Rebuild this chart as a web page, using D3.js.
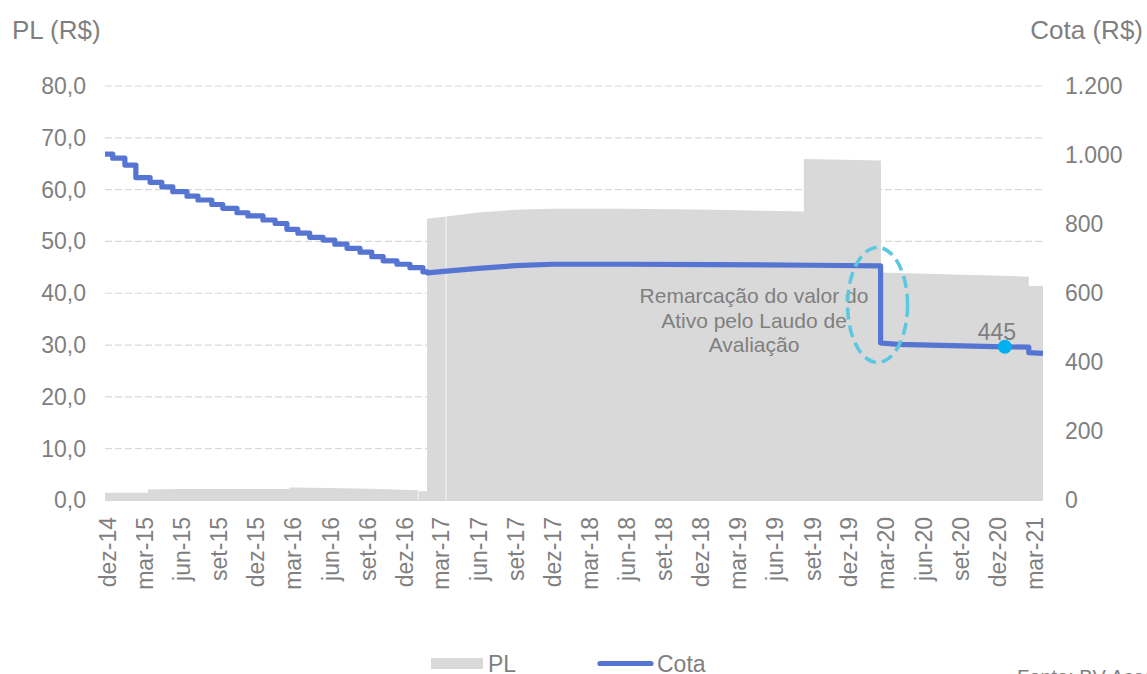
<!DOCTYPE html>
<html>
<head>
<meta charset="utf-8">
<script src="https://cdn.jsdelivr.net/npm/d3@7"></script>
<style>
  html, body { margin: 0; padding: 0; background: #fff; overflow: hidden; }
  svg { display: block; font-family: "Liberation Sans", Arial, sans-serif; }
  text { fill: #7f7f7f; }
</style>
</head>
<body>
<svg id="chart" width="1147" height="674"></svg>
<script>
// ---------- DATA ----------
const xTickLabels = ["dez-14","mar-15","jun-15","set-15","dez-15","mar-16","jun-16","set-16","dez-16",
  "mar-17","jun-17","set-17","dez-17","mar-18","jun-18","set-18","dez-18","mar-19","jun-19","set-19",
  "dez-19","mar-20","jun-20","set-20","dez-20","mar-21"];
const firstTickDate = "2014-12-01";
const leftTicks = [0,10,20,30,40,50,60,70,80];
const rightTicks = [0,200,400,600,800,1000,1200];

// PL (R$ milhões) - area, left axis
const plDates  = ["2014-11-25","2015-03-11","2015-03-11","2015-06-01","2016-02-20","2016-02-24","2016-06-01","2016-10-01",
  "2017-01-04","2017-01-04","2017-01-26","2017-01-26","2017-03-14","2017-06-01","2017-09-01","2017-12-01",
  "2018-06-01","2019-01-01","2019-08-12","2019-08-12","2020-02-18","2020-02-18","2021-02-16","2021-02-16","2021-03-23"];
const plValues = [1.5,1.5,2.1,2.2,2.2,2.5,2.4,2.2,
  2.0,1.8,1.8,54.4,54.8,55.6,56.1,56.3,
  56.3,56.1,55.8,65.9,65.6,44.0,43.2,41.4,41.4];
const plGapDates = ["2017-01-04","2017-03-14"];

// Cota (R$) - monthly stepped part, right axis
const cotaStepDates = ["2014-11-25","2014-12-14","2015-01-13","2015-02-09","2015-03-16","2015-04-14","2015-05-11",
  "2015-06-15","2015-07-12","2015-08-15","2015-09-11","2015-10-16","2015-11-12","2015-12-19","2016-01-18",
  "2016-02-16","2016-03-14","2016-04-12","2016-05-15","2016-06-13","2016-07-13","2016-08-14","2016-09-12",
  "2016-10-10","2016-11-13","2016-12-15","2017-01-16"];
const cotaStepValues = [1003,991,971,935,921,908,894,
  881,870,857,846,833,824,812,802,
  785,774,762,754,742,730,719,706,
  694,684,674,662];
// Cota - continuous part
const cotaDates  = ["2017-01-27","2017-03-15","2017-06-01","2017-09-01","2017-12-01","2018-06-01","2019-01-01",
  "2019-09-01","2020-02-17","2020-02-17","2020-04-01","2020-12-19","2021-02-16","2021-02-16","2021-03-23"];
const cotaValues = [659,664,672,680,684,684,683,
  681,679,456,452,445,444,428,426];

const markerDate = "2020-12-19";
const markerValue = 445;
const markerLabel = "445";

const annotationLines = ["Remarcação do valor do", "Ativo pelo Laudo de", "Avaliação"];
const annotationDate = "2020-02-17";
const annotationRange = [456, 679];

// ---------- CHART ----------
const parse = d3.timeParse("%Y-%m-%d");
const svg = d3.select("#chart");

const x = d3.scaleTime()
  .domain([parse("2014-11-25"), parse("2021-03-23")])
  .range([105, 1043]);
const yL = d3.scaleLinear().domain([0, 80]).range([500.5, 86]);
const yR = d3.scaleLinear().domain([0, 1200]).range([500.5, 86]);

const fmtL = v => d3.format(".1f")(v).replace(".", ",");
const fmtR = v => d3.format(",")(v).replace(/,/g, ".");

// gridlines
svg.append("g").selectAll("line").data(leftTicks.filter(d => d > 0)).join("line")
  .attr("x1", 105).attr("x2", 1043)
  .attr("y1", d => yL(d)).attr("y2", d => yL(d))
  .attr("stroke", "#d9d9d9").attr("stroke-width", 1.2)
  .attr("stroke-dasharray", "7,3");

// PL area
const plData = plDates.map((d, i) => ({ date: parse(d), value: plValues[i] }));
svg.append("path").datum(plData)
  .attr("fill", "#d9d9d9")
  .attr("d", d3.area().x(d => x(d.date)).y0(yL(0)).y1(d => yL(d.value)));

// thin seams in the area
const plAt = dt => { let v = 0; plData.forEach(p => { if (p.date <= dt) v = p.value; }); return v; };
svg.append("g").selectAll("line").data(plGapDates.map(parse)).join("line")
  .attr("x1", d => x(d)).attr("x2", d => x(d))
  .attr("y1", yL(0)).attr("y2", d => yL(plAt(d)))
  .attr("stroke", "#ffffff").attr("stroke-width", 1).attr("opacity", 0.8);

// axis baseline
svg.append("line").attr("x1", 105).attr("x2", 1043).attr("y1", yL(0)).attr("y2", yL(0))
  .attr("stroke", "#d9d9d9").attr("stroke-width", 1);

// left axis
const axL = d3.axisLeft(yL).tickValues(leftTicks).tickFormat(fmtL).tickSize(0).tickPadding(0);
const gL = svg.append("g").attr("transform", "translate(86,0)").call(axL);
gL.select(".domain").remove();
gL.selectAll("text").attr("font-size", 23).attr("fill", "#7f7f7f").attr("font-family", "Liberation Sans, Arial, sans-serif");

// right axis
const axR = d3.axisRight(yR).tickValues(rightTicks).tickFormat(fmtR).tickSize(0).tickPadding(0);
const gR = svg.append("g").attr("transform", "translate(1065,0)").call(axR);
gR.select(".domain").remove();
gR.selectAll("text").attr("font-size", 23).attr("fill", "#7f7f7f").attr("font-family", "Liberation Sans, Arial, sans-serif");

// x axis labels
const t0 = parse(firstTickDate);
const xTickDates = xTickLabels.map((l, i) => d3.timeMonth.offset(t0, 3 * i));
const axX = d3.axisBottom(x).tickValues(xTickDates).tickFormat((d, i) => xTickLabels[i]).tickSize(0).tickPadding(0);
const gX = svg.append("g").attr("transform", "translate(0,517)").call(axX);
gX.select(".domain").remove();
gX.selectAll("text")
  .attr("font-size", 23).attr("fill", "#7f7f7f").attr("font-family", "Liberation Sans, Arial, sans-serif")
  .attr("text-anchor", "end")
  .attr("transform", "rotate(-90)")
  .attr("x", 0).attr("y", 0).attr("dy", "0.35em");

// axis titles
svg.append("text").attr("x", 12).attr("y", 39).attr("font-size", 26).text("PL (R$)");
svg.append("text").attr("x", 1143).attr("y", 39).attr("font-size", 26).attr("text-anchor", "end").text("Cota (R$)");

// Cota line
const cotaPts = [];
cotaStepDates.forEach((d, i) => {
  const nextD = i < cotaStepDates.length - 1 ? cotaStepDates[i + 1] : cotaDates[0];
  cotaPts.push({ date: parse(d), value: cotaStepValues[i] });
  cotaPts.push({ date: parse(nextD), value: cotaStepValues[i] });
});
cotaDates.forEach((d, i) => cotaPts.push({ date: parse(d), value: cotaValues[i] }));
svg.append("path").datum(cotaPts)
  .attr("fill", "none").attr("stroke", "#5675d2").attr("stroke-width", 5.2)
  .attr("stroke-linejoin", "round").attr("stroke-linecap", "butt")
  .attr("d", d3.line().x(d => x(d.date)).y(d => yR(d.value)));

// annotation text
const ann = svg.append("text").attr("font-size", 21).attr("text-anchor", "middle");
annotationLines.forEach((l, i) => {
  ann.append("tspan").attr("x", 754).attr("y", 303 + i * 24.5).text(l);
});

// ellipse
const ed = parse(annotationDate);
svg.append("ellipse")
  .attr("cx", x(ed) - 3)
  .attr("cy", (yR(annotationRange[0]) + yR(annotationRange[1])) / 2 + 0.5)
  .attr("rx", 30).attr("ry", 57.5)
  .attr("fill", "none").attr("stroke", "#5bc8e0").attr("stroke-width", 3.5)
  .attr("stroke-dasharray", "12,6");

// marker
const md = parse(markerDate);
svg.append("circle").attr("cx", x(md)).attr("cy", yR(markerValue)).attr("r", 7).attr("fill", "#00b0f0");
svg.append("text").attr("x", x(md) - 8).attr("y", yR(markerValue) - 7)
  .attr("font-size", 23).attr("text-anchor", "middle").text(markerLabel);

// legend
svg.append("rect").attr("x", 431).attr("y", 658).attr("width", 52).attr("height", 11).attr("fill", "#d9d9d9");
svg.append("text").attr("x", 488).attr("y", 672).attr("font-size", 23).text("PL");
svg.append("line").attr("x1", 600).attr("x2", 651).attr("y1", 663.5).attr("y2", 663.5)
  .attr("stroke", "#5675d2").attr("stroke-width", 5.2).attr("stroke-linecap", "round");
svg.append("text").attr("x", 657).attr("y", 672).attr("font-size", 23).text("Cota");

// source (clipped at bottom)
svg.append("text").attr("x", 1017).attr("y", 684).attr("font-size", 20).text("Fonte: BV Asset");
</script>
</body>
</html>
